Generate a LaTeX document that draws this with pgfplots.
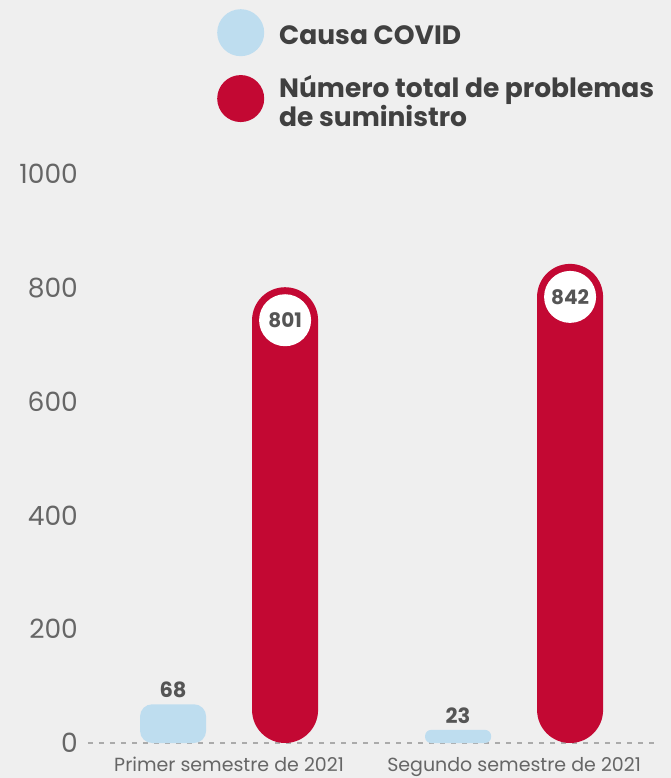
\documentclass[border=0pt]{standalone}
\usepackage{pgfplots}
\pgfplotsset{compat=1.18}
\usepackage{fontspec}
\setmainfont{Poppins}

\definecolor{bg}{HTML}{EFEFEF}
\definecolor{covid}{HTML}{BEDDEF}
\definecolor{total}{HTML}{C30833}
\definecolor{ticktxt}{HTML}{666666}
\definecolor{valtxt}{HTML}{555555}
\definecolor{legtxt}{HTML}{404040}

\begin{document}
\begin{tikzpicture}[x=1bp,y=1bp]
\fill[bg] (-88,-35) rectangle (583,743);
\path[use as bounding box] (-88,-35) rectangle (583,743);
\begin{axis}[
   at={(0,0)}, anchor=south west,
   width=572bp, height=569bp, scale only axis,
   clip=false,
   xmin=-0.495, xmax=1.512,
   ymin=0, ymax=1000,
   axis lines=left,
   axis line style={draw=none},
   tick style={draw=none},
   major tick length=0pt,
   ybar, bar width=66bp,
   xtick={0,1},
   xticklabels={Primer semestre de 2021, Segundo semestre de 2021},
   xticklabel style={font=\fontsize{19bp}{23bp}\selectfont, text=ticktxt, inner sep=0pt, yshift=-14bp},
   ytick={0,200,...,1000},
   scaled y ticks=false,
   /pgf/number format/1000 sep={},
   /pgf/number format/assume math mode=true,
   yticklabel style={font=\fontsize{26.5bp}{30bp}\selectfont, text=ticktxt, inner sep=0pt, anchor=east, xshift=-10bp},
   legend style={at={(axis description cs:0,0)}, anchor=north west, xshift=129bp, yshift=734bp,
      draw=none, fill=none, inner sep=0pt,
      font=\bfseries\fontsize{26.5bp}{21bp}\selectfont, text=legtxt,
      row sep=17bp, column sep=13bp,
      cells={align=left, anchor=west}},
]
   \draw[dashed, dash pattern=on 5bp off 6bp, line width=1.2bp, color=black!33]
      (rel axis cs:0,0) -- (rel axis cs:1,0);

   % Causa COVID
   \addplot[fill=covid, draw=none, bar shift=-56bp, rounded corners=12bp,
      legend image code/.code={\fill[covid] (23bp,3bp) circle (23.5bp);},
      nodes near coords,
      every node near coord/.append style={font=\bfseries\fontsize{21bp}{21bp}\selectfont, text=valtxt, yshift=3bp}]
      coordinates {(0,68)};
   \addlegendentry{Causa COVID}
   \addplot[fill=covid, draw=none, bar shift=-56bp, rounded corners=6bp, forget plot,
      nodes near coords,
      every node near coord/.append style={font=\bfseries\fontsize{21bp}{21bp}\selectfont, text=valtxt, yshift=3bp}]
      coordinates {(1,23)};

   % Numero total de problemas de suministro
   \addplot[fill=total, draw=none, bar shift=56bp, rounded corners=33bp,
      legend image code/.code={\fill[total] (23bp,3bp) circle (23.5bp);},
      nodes near coords,
      every node near coord/.append style={circle, fill=white, minimum size=52bp, inner sep=0pt,
         anchor=center, yshift=-33bp, font=\bfseries\fontsize{20bp}{20bp}\selectfont, text=valtxt}]
      coordinates {(0,801) (1,842)};
   \addlegendentry{Número total de problemas\\de suministro}
\end{axis}
\end{tikzpicture}
\end{document}
